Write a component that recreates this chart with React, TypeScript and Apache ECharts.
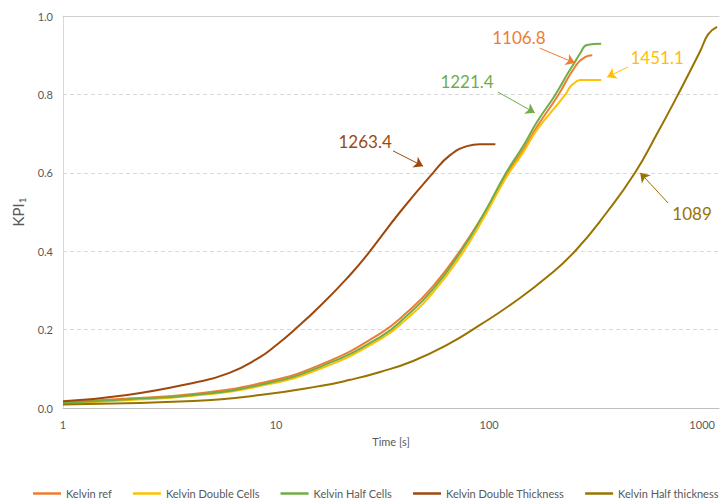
import React, { useEffect, useRef } from "react";
import * as echarts from "echarts";

const seriesNames = [
  "Kelvin ref",
  "Kelvin Double Cells",
  "Kelvin Half Cells",
  "Kelvin Double Thickness",
  "Kelvin Half thickness",
];
const colors = ["#ED7D31", "#FFC000", "#70AD47", "#9E480E", "#997300"];

const refT = [1, 2, 4.08, 8.41, 16.1, 30.8, 41.2, 54.6, 73.9, 93.7, 120.2, 144.5, 168, 211, 253, 282, 305];
const refV = [0.014, 0.024, 0.036, 0.063, 0.11, 0.19, 0.244, 0.311, 0.405, 0.492, 0.594, 0.658, 0.718, 0.798, 0.87, 0.895, 0.9];

const dblCellsT = [1, 2, 4.08, 8.41, 16.1, 30.8, 41.2, 54.6, 73.9, 93.7, 120.2, 144.5, 168, 227, 240, 253, 268, 336];
const dblCellsV = [0.012, 0.02, 0.031, 0.056, 0.1, 0.175, 0.228, 0.295, 0.39, 0.482, 0.588, 0.652, 0.71, 0.798, 0.819, 0.83, 0.837, 0.837];

const halfCellsT = [1, 2, 4.08, 8.41, 16.1, 30.8, 41.2, 54.6, 73.9, 93.7, 120.2, 144.5, 168, 204, 235, 253, 268, 288, 336];
const halfCellsV = [0.013, 0.022, 0.033, 0.059, 0.105, 0.181, 0.236, 0.303, 0.4, 0.492, 0.6, 0.668, 0.73, 0.798, 0.855, 0.883, 0.905, 0.926, 0.929];

const dblThickT = [1, 2, 4.08, 6, 8.41, 10, 12, 16.1, 22.3, 26.7, 38.2, 54.6, 65.6, 78.8, 90.7, 107];
const dblThickV = [0.017, 0.033, 0.064, 0.089, 0.13, 0.16, 0.196, 0.26, 0.34, 0.39, 0.5, 0.6, 0.645, 0.668, 0.673, 0.673];

const halfThickT = [1, 4.08, 8.41, 16.1, 22.3, 30.8, 44, 63.5, 90.7, 129.6, 187, 253, 358, 484, 615, 771, 979, 1067, 1175];
const halfThickV = [0.009, 0.018, 0.033, 0.056, 0.072, 0.092, 0.12, 0.161, 0.212, 0.268, 0.334, 0.4, 0.5, 0.6, 0.7, 0.8, 0.91, 0.953, 0.972];

const seriesT = [refT, dblCellsT, halfCellsT, dblThickT, halfThickT];
const seriesV = [refV, dblCellsV, halfCellsV, dblThickV, halfThickV];

// annotations: label text, label position [t, v], arrow start, arrow tip
const annoLabels = ["1106.8", "1451.1", "1221.4", "1263.4", "1089"];
const annoTextPos = [[138, 0.946], [615, 0.893], [78.8, 0.834], [26.2, 0.679], [897, 0.497]];
const annoArrowFrom = [[173, 0.918], [449, 0.87], [110, 0.806], [35.4, 0.656], [692, 0.523]];
const annoArrowTo = [[253, 0.88], [358, 0.844], [164, 0.753], [49.0, 0.617], [512, 0.6]];

const xTickLabels = [1, 10, 100, 1000];
const yTicks = [0, 0.2, 0.4, 0.6, 0.8, 1.0];

const FONT = "Lato, 'Open Sans', sans-serif";

export default function App() {
  const ref = useRef<HTMLDivElement>(null);
  useEffect(() => {
    if (!ref.current) return;
    const chart = echarts.init(ref.current, undefined, { renderer: "svg" });
    const series: any[] = seriesNames.map((name, i) => ({
      name,
      type: "line",
      xAxisIndex: 0,
      yAxisIndex: 0,
      data: seriesT[i].map((t, j) => [t, seriesV[i][j]]),
      smooth: 0.5,
      showSymbol: false,
      symbol: "none",
      lineStyle: { color: colors[i], width: 2 },
      itemStyle: { color: colors[i] },
      z: 3,
      markLine: {
        silent: true,
        symbol: ["none", "arrow"],
        symbolSize: 9,
        label: { show: false },
        lineStyle: { color: colors[i], width: 1, type: "solid" },
        emphasis: { disabled: true },
        data: [[{ coord: annoArrowFrom[i] }, { coord: annoArrowTo[i] }]],
      },
      markPoint: {
        silent: true,
        symbol: "rect",
        symbolSize: [1, 1],
        itemStyle: { color: "rgba(0,0,0,0)" },
        label: {
          show: true,
          position: "inside",
          formatter: annoLabels[i],
          color: colors[i],
          fontSize: 17,
          fontFamily: FONT,
        },
        data: [{ coord: annoTextPos[i] }],
      },
    }));

    chart.setOption({
      animation: false,
      backgroundColor: "#ffffff",
      textStyle: { fontFamily: FONT },
      grid: { left: 63, top: 16, right: 1, bottom: 95, containLabel: false },
      legend: {
        data: seriesNames,
        bottom: 4,
        left: 33,
        width: 700,
        padding: 0,
        icon: "rect",
        itemWidth: 28,
        itemHeight: 2.5,
        itemGap: 21,
        textStyle: { color: "#595959", fontSize: 11, fontFamily: FONT },
      },
      xAxis: [
        {
          type: "log",
          logBase: 10,
          min: 1,
          max: 1200,
          name: "Time [s]",
          nameLocation: "middle",
          nameGap: 28,
          nameTextStyle: { color: "#595959", fontSize: 11, fontFamily: FONT },
          axisLine: { show: true, lineStyle: { color: "#bfbfbf", width: 1 } },
          axisTick: { show: false },
          splitLine: { show: false },
          minorSplitLine: { show: false },
          axisLabel: {
            color: "#595959",
            fontSize: 11,
            margin: 11,
            fontFamily: FONT,
            showMaxLabel: false,
            formatter: (v: number) => {
              const m = xTickLabels.find((x) => Math.abs(x - v) / x < 1e-6);
              return m !== undefined ? String(m) : "";
            },
          },
        },
        {
          type: "value",
          position: "top",
          min: 0,
          max: 1,
          axisLine: { show: true, onZero: false, lineStyle: { color: "#d0d0d0", width: 1 } },
          axisTick: { show: false },
          axisLabel: { show: false },
          splitLine: { show: false },
        },
      ],
      yAxis: {
        type: "value",
        min: 0,
        max: 1,
        interval: 0.2,
        name: "{a|KPI}{b|1}",
        nameLocation: "middle",
        nameGap: 29,
        nameRotate: 90,
        nameTextStyle: {
          color: "#595959",
          rich: {
            a: { fontSize: 15, color: "#595959", fontFamily: FONT },
            b: { fontSize: 10, color: "#595959", fontFamily: FONT, padding: [7, 0, 0, 0] },
          },
        },
        axisLine: { show: true, lineStyle: { color: "#d9d9d9", width: 1 } },
        axisTick: { show: false },
        splitLine: { show: true, lineStyle: { color: "#d9d9d9", type: [4, 3], width: 1 } },
        axisLabel: {
          color: "#595959",
          fontSize: 11,
          margin: 10,
          fontFamily: FONT,
          formatter: (v: number) => {
            const m = yTicks.find((y) => Math.abs(y - v) < 1e-6);
            return m !== undefined ? m.toFixed(1) : "";
          },
        },
      },
      series,
    });
    return () => chart.dispose();
  }, []);
  return (
    <div
      ref={ref}
      style={{ position: "fixed", left: 0, top: 0, width: 720, height: 503, background: "#fff" }}
    />
  );
}
